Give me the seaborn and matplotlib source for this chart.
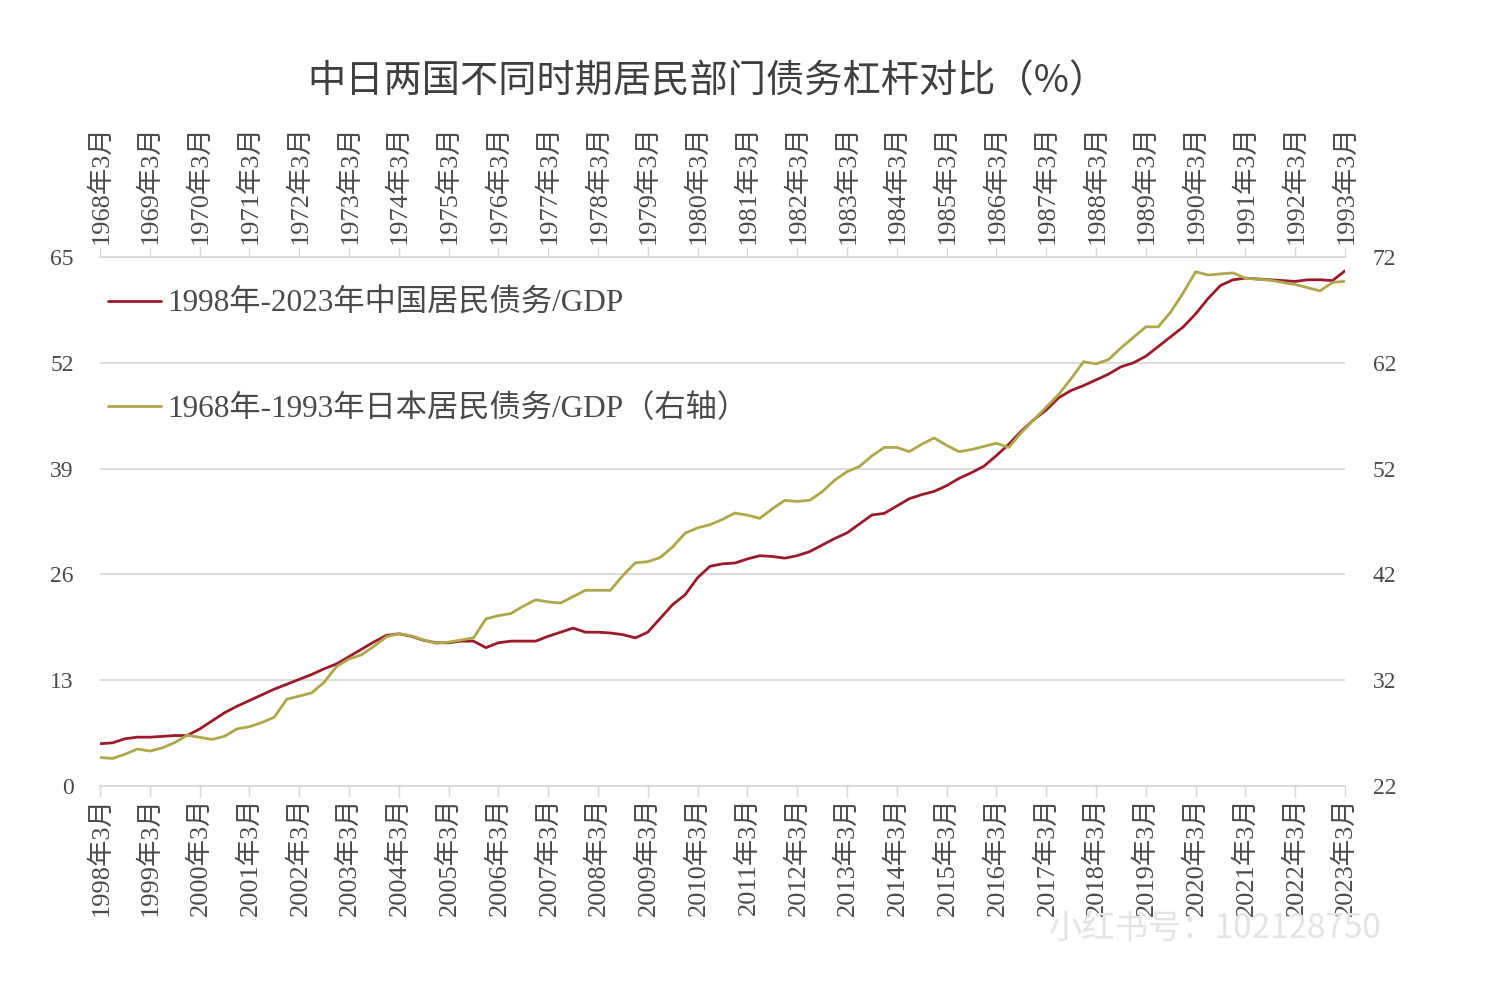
import numpy as np
import pandas as pd
import matplotlib
matplotlib.use("Agg")
import matplotlib.pyplot as plt
import seaborn as sns

# ---- data (quarterly, March 1998 .. March 2023 / March 1968 .. March 1993) ----
china = [5.2, 5.3, 5.8, 6.0, 6.0, 6.1, 6.2, 6.2, 7.0, 8.0,
         9.0, 9.8, 10.5, 11.2, 11.9, 12.5, 13.1, 13.7, 14.4, 15.0,
         15.9, 16.8, 17.7, 18.5, 18.7, 18.4, 17.9, 17.6, 17.6, 17.8,
         17.8, 17.0, 17.6, 17.8, 17.8, 17.8, 18.4, 18.9, 19.4, 18.9,
         18.9, 18.8, 18.6, 18.2, 18.9, 20.6, 22.3, 23.5, 25.6, 27.0,
         27.3, 27.4, 27.9, 28.3, 28.2, 28.0, 28.3, 28.8, 29.6, 30.4,
         31.1, 32.2, 33.3, 33.5, 34.4, 35.3, 35.8, 36.2, 36.9, 37.8,
         38.5, 39.3, 40.6, 42.0, 43.6, 45.0, 46.2, 47.7, 48.6, 49.2,
         49.9, 50.6, 51.5, 52.0, 52.8, 54.0, 55.2, 56.4, 58.0, 59.9,
         61.5, 62.2, 62.4, 62.3, 62.2, 62.1, 62.0, 62.2, 62.2, 62.1,
         63.3]
japan = [24.7, 24.6, 25.0, 25.5, 25.3, 25.6, 26.1, 26.8, 26.6, 26.4,
         26.7, 27.4, 27.6, 28.0, 28.5, 30.2, 30.5, 30.8, 31.8, 33.3,
         34.0, 34.4, 35.2, 36.1, 36.4, 36.2, 35.8, 35.5, 35.6, 35.8,
         36.0, 37.8, 38.1, 38.3, 39.0, 39.6, 39.4, 39.3, 39.9, 40.5,
         40.5, 40.5, 41.9, 43.1, 43.2, 43.6, 44.6, 45.9, 46.4, 46.7,
         47.2, 47.8, 47.6, 47.3, 48.2, 49.0, 48.9, 49.0, 49.8, 50.9,
         51.7, 52.2, 53.2, 54.0, 54.0, 53.6, 54.3, 54.9, 54.2, 53.6,
         53.8, 54.1, 54.4, 54.0, 55.4, 56.6, 57.8, 59.0, 60.5, 62.1,
         61.9, 62.3, 63.4, 64.4, 65.4, 65.4, 66.8, 68.6, 70.6, 70.3,
         70.4, 70.5, 70.0, 69.9, 69.8, 69.6, 69.4, 69.1, 68.8, 69.6,
         69.7]
cn_years = list(range(1998, 2024))
jp_years = list(range(1968, 1994))
cn_tick_labels = [f"{y}年3月" for y in cn_years]
jp_tick_labels = [f"{y}年3月" for y in jp_years]
left_ticks = [0, 13, 26, 39, 52, 65]
right_ticks = [22, 32, 42, 52, 62, 72]
title = "中日两国不同时期居民部门债务杠杆对比（%）"
cn_label = "1998年-2023年中国居民债务/GDP"
jp_label = "1968年-1993年日本居民债务/GDP（右轴）"
watermark = "小红书号：102128750"

# ---- styling ----
sns.set_theme(style="white")
plt.rcParams["font.family"] = ["Liberation Serif", "Noto Sans CJK SC", "DejaVu Sans"]

RED = "#9A1A2A"
OLIVE = "#ADA84A"
GRID = "#d9d9d9"
TXT = "#4a4a4a"

df = pd.DataFrame({"q": np.arange(len(china)), "china": china, "japan": japan})

fig = plt.figure(figsize=(14.9, 9.94), dpi=100)
ax = fig.add_axes([100 / 1490, 1 - 786 / 994, 1245 / 1490, 529 / 994])
ax2 = ax.twinx()

sns.lineplot(data=df, x="q", y="china", ax=ax, color=RED, lw=2.0, label=cn_label, legend=False)
sns.lineplot(data=df, x="q", y="japan", ax=ax2, color=OLIVE, lw=2.0, label=jp_label, legend=False)

n_q = len(china) - 1
ax.set_xlim(0, n_q)
ax.set_ylim(left_ticks[0], left_ticks[-1])
ax2.set_ylim(right_ticks[0], right_ticks[-1])
ax.set_yticks(left_ticks)
ax2.set_yticks(right_ticks)
ax.set_xlabel("")
ax.set_ylabel("")
ax2.set_ylabel("")

xt = list(range(0, n_q + 1, 4))
ax.set_xticks(xt)
ax.set_xticklabels(cn_tick_labels, rotation=90, fontsize=19, color=TXT)
ax.tick_params(axis="x", direction="out", length=8, width=1, color=GRID, pad=0, bottom=True)
ax.tick_params(axis="y", length=0, pad=19, labelsize=17, labelcolor=TXT)
ax2.tick_params(axis="y", length=0, pad=20, labelsize=17, labelcolor=TXT)

sec = ax.secondary_xaxis("top")
sec.set_xticks(xt)
sec.set_xticklabels(jp_tick_labels, rotation=90, fontsize=19, color=TXT)
sec.tick_params(axis="x", direction="out", length=7, width=1, color=GRID, pad=2)
for s in sec.spines.values():
    s.set_color(GRID)
    s.set_linewidth(1.3)

ax.yaxis.grid(True, color=GRID, lw=1.3)
ax.xaxis.grid(False)
ax2.grid(False)
for a in (ax, ax2):
    for side in ("left", "right"):
        a.spines[side].set_visible(False)
    a.spines["top"].set_visible(False)
    a.spines["bottom"].set_color(GRID)
    a.spines["bottom"].set_linewidth(1.3)

# legend
h1, l1 = ax.get_legend_handles_labels()
h2, l2 = ax2.get_legend_handles_labels()
fig.legend(h1 + h2, l1 + l2, loc="upper left", bbox_to_anchor=(92 / 1490, 1 - 274 / 994),
           frameon=False, handlelength=1.7, handletextpad=0.2,
           labelspacing=2.4, borderpad=0, labelcolor=TXT,
           prop={"family": ["Liberation Serif", "Noto Sans CJK SC"], "size": 22.5})

fig.text(707 / 1490, 1 - 82 / 994, title, ha="center", va="center", fontsize=27.5,
         color="#3f3f3f", family=["Noto Sans CJK SC", "DejaVu Sans"])

fig.text(1215 / 1490, 1 - 928 / 994, watermark, ha="center", va="center", fontsize=24,
         color="#e4e4e4", family=["Noto Sans CJK SC", "DejaVu Sans"], zorder=0)

fig.savefig("out.png", dpi=100, facecolor="white")
